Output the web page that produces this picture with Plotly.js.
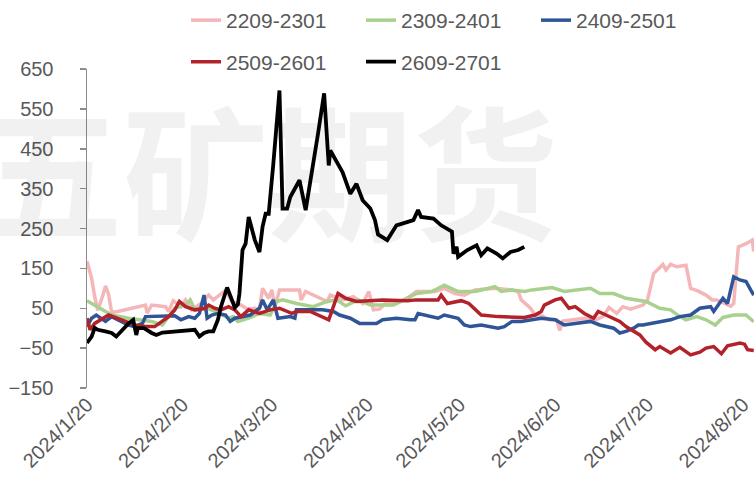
<!DOCTYPE html>
<html>
<head>
<meta charset="utf-8">
<script src="https://cdn.plot.ly/plotly-3.0.1.min.js"></script>
<style>html,body{margin:0;padding:0;background:#fff;}#chart{width:754px;height:485px;}</style>
</head>
<body>
<div id="chart"></div>
<script>
// ---- data ----
const seriesNames = ["2209-2301", "2309-2401", "2409-2501", "2509-2601", "2609-2701"];
const tickDates = ["2024-01-20","2024-02-20","2024-03-20","2024-04-20","2024-05-20","2024-06-20","2024-07-20","2024-08-20"];
const tickLabels = ["2024/1/20","2024/2/20","2024/3/20","2024/4/20","2024/5/20","2024/6/20","2024/7/20","2024/8/20"];
const yTicks = [-150, -50, 50, 150, 250, 350, 450, 550, 650];

const d2209 = ["2024-01-20","2024-01-21 12:00","2024-01-22 12:00","2024-01-23 12:00","2024-01-25","2024-01-26","2024-01-27","2024-01-28","2024-01-30","2024-02-08","2024-02-08 12:00","2024-02-10","2024-02-14 12:00","2024-02-15 12:00","2024-02-17","2024-02-19 12:00","2024-02-21","2024-02-23","2024-02-26","2024-02-28 12:00","2024-03-01","2024-03-02 12:00","2024-03-05","2024-03-07","2024-03-08 12:00","2024-03-10","2024-03-12","2024-03-14 12:00","2024-03-16","2024-03-17","2024-03-19","2024-03-20","2024-03-21","2024-03-22 12:00","2024-03-29","2024-03-29 12:00","2024-03-31","2024-04-03 12:00","2024-04-07","2024-04-08","2024-04-12","2024-04-15 12:00","2024-04-18 12:00","2024-04-20 12:00","2024-04-22","2024-04-24","2024-04-26 12:00","2024-04-29 12:00","2024-05-03","2024-05-06","2024-05-12","2024-05-15","2024-05-18 12:00","2024-05-21 12:00","2024-05-25","2024-05-31 12:00","2024-06-06","2024-06-08","2024-06-09","2024-06-12","2024-06-13 12:00","2024-06-16","2024-06-18","2024-06-20 12:00","2024-06-21 12:00","2024-06-22 12:00","2024-06-26 12:00","2024-06-29 12:00","2024-07-03 12:00","2024-07-05 12:00","2024-07-07 12:00","2024-07-10","2024-07-12","2024-07-14 12:00","2024-07-18 12:00","2024-07-20","2024-07-22","2024-07-24","2024-07-25","2024-07-26","2024-07-27 12:00","2024-07-29 12:00","2024-08-01 12:00","2024-08-03","2024-08-05 12:00","2024-08-08","2024-08-10","2024-08-11 12:00","2024-08-16","2024-08-17","2024-08-18 12:00","2024-08-21","2024-08-23","2024-08-23 12:00"];
const v2209 = [168,125,79,45,79,106,85,40,42,58,38,58,54,42,69,54,71,46,62,83,71,79,95,67,62,58,48,50,46,100,75,96,54,96,96,71,92,79,67,83,71,79,62,92,46,48,67,62,75,92,92,100,87,83,96,100,96,92,71,50,33,30,21,21,-6,18,21,25,22,29,52,37,54,48,58,71,137,152,160,146,160,154,158,100,93,83,71,71,55,62,204,212,221,192];

const d2309 = ["2024-01-20","2024-01-28","2024-02-02 12:00","2024-02-07","2024-02-10","2024-02-13 12:00","2024-02-17 12:00","2024-02-21","2024-02-22 12:00","2024-02-24","2024-02-28","2024-03-03","2024-03-06","2024-03-07 12:00","2024-03-09","2024-03-12 12:00","2024-03-16","2024-03-19 12:00","2024-03-21 12:00","2024-03-23 12:00","2024-03-28","2024-04-02 12:00","2024-04-07","2024-04-10","2024-04-13","2024-04-17","2024-04-21","2024-04-28 12:00","2024-05-03","2024-05-06","2024-05-11","2024-05-15","2024-05-19 12:00","2024-05-25","2024-05-31 12:00","2024-06-02 12:00","2024-06-06","2024-06-10","2024-06-12 12:00","2024-06-19","2024-06-23","2024-06-26 12:00","2024-07-01 12:00","2024-07-04 12:00","2024-07-09","2024-07-13","2024-07-17 12:00","2024-07-19 12:00","2024-07-24","2024-07-27 12:00","2024-07-30 12:00","2024-08-01 12:00","2024-08-05","2024-08-08","2024-08-11","2024-08-13 12:00","2024-08-17","2024-08-21","2024-08-23 12:00"];
const v2309 = [69,33,25,21,17,8,50,58,71,46,50,37,25,29,17,25,37,33,67,71,62,54,67,71,56,71,58,58,75,87,92,108,92,92,104,92,96,92,96,102,92,96,100,87,87,75,71,67,50,46,29,21,29,21,8,27,33,33,16];

const d2409 = ["2024-01-20","2024-01-21 12:00","2024-01-23","2024-01-26","2024-01-28","2024-02-02 12:00","2024-02-04 12:00","2024-02-07","2024-02-08","2024-02-13 12:00","2024-02-17 12:00","2024-02-19 12:00","2024-02-22","2024-02-24","2024-02-25 12:00","2024-02-27","2024-02-28","2024-02-29 12:00","2024-03-02 12:00","2024-03-05","2024-03-06 12:00","2024-03-08","2024-03-10","2024-03-13","2024-03-16","2024-03-17","2024-03-18 12:00","2024-03-20","2024-03-20 12:00","2024-03-22","2024-03-26","2024-03-27 12:00","2024-03-28","2024-04-05 12:00","2024-04-09","2024-04-11","2024-04-14 12:00","2024-04-17 12:00","2024-04-23","2024-04-25","2024-04-29 12:00","2024-05-04","2024-05-05 12:00","2024-05-06 12:00","2024-05-13","2024-05-15","2024-05-19 12:00","2024-05-21 12:00","2024-05-23 12:00","2024-05-27","2024-06-01 12:00","2024-06-03 12:00","2024-06-06","2024-06-09","2024-06-12 12:00","2024-06-15 12:00","2024-06-20","2024-06-23","2024-06-26 12:00","2024-07-01 12:00","2024-07-04 12:00","2024-07-09","2024-07-11","2024-07-13","2024-07-15 12:00","2024-07-17","2024-07-18 12:00","2024-07-21","2024-07-24","2024-07-27 12:00","2024-07-30 12:00","2024-08-03","2024-08-06","2024-08-09 12:00","2024-08-10 12:00","2024-08-12 12:00","2024-08-13 12:00","2024-08-15","2024-08-17","2024-08-19","2024-08-21","2024-08-22 12:00","2024-08-23 12:00"];
const v2409 = [4,25,33,17,29,8,4,12,29,31,31,21,29,25,37,83,25,33,37,33,17,25,29,33,50,71,46,67,71,25,29,25,46,46,42,33,25,12,12,21,25,21,21,37,25,33,25,8,4,8,0,4,17,17,21,25,21,8,12,17,8,0,-12,-8,0,8,8,12,17,21,29,33,50,54,42,62,75,62,129,121,117,96,83];

const d2509 = ["2024-01-20","2024-01-21","2024-01-22 12:00","2024-01-25","2024-01-27","2024-02-01 12:00","2024-02-04 12:00","2024-02-08","2024-02-11","2024-02-15 12:00","2024-02-17 12:00","2024-02-19","2024-02-21","2024-02-24","2024-02-27 12:00","2024-02-28 12:00","2024-03-01 12:00","2024-03-03 12:00","2024-03-06","2024-03-08","2024-03-10","2024-03-12 12:00","2024-03-16","2024-03-19 12:00","2024-03-22 12:00","2024-03-26 12:00","2024-03-28","2024-04-01 12:00","2024-04-07 12:00","2024-04-10 12:00","2024-04-13","2024-04-16 12:00","2024-04-21","2024-04-25","2024-05-03","2024-05-06","2024-05-13","2024-05-14","2024-05-16","2024-05-20 12:00","2024-05-23","2024-05-27","2024-06-01 12:00","2024-06-07","2024-06-10","2024-06-13 12:00","2024-06-15 12:00","2024-06-16 12:00","2024-06-20","2024-06-22","2024-06-24 12:00","2024-06-26 12:00","2024-06-29 12:00","2024-07-02 12:00","2024-07-04","2024-07-06 12:00","2024-07-11","2024-07-13","2024-07-15 12:00","2024-07-17 12:00","2024-07-19 12:00","2024-07-22 12:00","2024-07-24","2024-07-27 12:00","2024-07-30 12:00","2024-08-03","2024-08-06","2024-08-08","2024-08-10 12:00","2024-08-13","2024-08-15","2024-08-19","2024-08-20 12:00","2024-08-21 12:00","2024-08-23 12:00"];
const v2509 = [25,-4,12,25,33,17,8,4,4,29,46,67,54,46,50,58,50,46,54,46,29,46,37,46,50,37,42,42,21,87,75,67,69,71,69,71,71,83,62,69,62,33,29,29,27,33,42,58,71,75,50,54,37,25,42,33,17,4,-8,-17,-35,-54,-46,-62,-48,-67,-60,-50,-46,-64,-44,-37,-40,-54,-56];

const d2609 = ["2024-01-20","2024-01-21 12:00","2024-01-22 12:00","2024-01-23 12:00","2024-01-26","2024-01-28","2024-01-29 12:00","2024-01-31 12:00","2024-02-01 12:00","2024-02-02 12:00","2024-02-04","2024-02-05","2024-02-05 12:00","2024-02-07 12:00","2024-02-10","2024-02-11 12:00","2024-02-13 12:00","2024-02-18 12:00","2024-02-24","2024-02-25 12:00","2024-02-27","2024-02-28 12:00","2024-03-01","2024-03-02 12:00","2024-03-03 12:00","2024-03-05 12:00","2024-03-07","2024-03-08","2024-03-09","2024-03-09 12:00","2024-03-10 12:00","2024-03-11 12:00","2024-03-12 12:00","2024-03-14 12:00","2024-03-16","2024-03-17","2024-03-18","2024-03-19","2024-03-20 12:00","2024-03-22 12:00","2024-03-23 12:00","2024-03-25","2024-03-26","2024-03-29","2024-03-31","2024-04-02","2024-04-04","2024-04-06","2024-04-07 12:00","2024-04-08","2024-04-09","2024-04-12","2024-04-14 12:00","2024-04-16 12:00","2024-04-18 12:00","2024-04-21","2024-04-22 12:00","2024-04-23 12:00","2024-04-26 12:00","2024-04-29 12:00","2024-05-05","2024-05-06 12:00","2024-05-07 12:00","2024-05-11 12:00","2024-05-14","2024-05-17 12:00","2024-05-18","2024-05-19","2024-05-19 12:00","2024-05-22 12:00","2024-05-25 12:00","2024-05-27","2024-05-29","2024-06-01","2024-06-03","2024-06-05 12:00","2024-06-08","2024-06-10"];
const v2609 = [-37,-21,1,-4,-8,-12,-21,-4,4,12,21,-17,0,0,-12,-17,-11,-8,-4,-21,-12,-8,-8,21,54,102,73,52,60,87,196,212,279,221,191,254,287,287,412,596,300,300,329,371,296,387,487,589,408,446,433,391,337,362,321,300,271,235,221,258,271,296,279,275,258,242,187,204,179,196,208,183,200,187,175,191,196,204];

const seriesDates = [d2209, d2309, d2409, d2509, d2609];
const seriesValues = [v2209, v2309, v2409, v2509, v2609];
const colors = ["#F4B6B9", "#A9D18E", "#2F5597", "#B3222A", "#000000"];
const widths = [3.5, 3.5, 3.5, 3.5, 3.8];
const legendOf = ["legend", "legend", "legend", "legend2", "legend2"];

const traces = seriesNames.map((n, i) => ({
  type: "scatter", mode: "lines", name: n,
  x: seriesDates[i], y: seriesValues[i],
  line: {color: colors[i], width: widths[i]},
  legend: legendOf[i], hoverinfo: "skip"
}));

const font = "Liberation Sans, Arial, sans-serif";
const grey = "#595959";
const axisGrey = "#8c8c8c";
const xRange = ["2024-01-20", "2024-08-23 14:00"];

const legendCommon = {
  orientation: "h", xanchor: "left", yanchor: "middle",
  font: {family: font, size: 21, color: grey}, entrywidth: 130, entrywidthmode: "pixels",
  bgcolor: "rgba(0,0,0,0)", traceorder: "normal"
};

const layout = {
  width: 754, height: 485,
  margin: {l: 87, r: 0, t: 68, b: 97},
  paper_bgcolor: "#ffffff", plot_bgcolor: "rgba(0,0,0,0)",
  showlegend: true,
  font: {family: font, color: grey, size: 19},
  xaxis: {
    type: "date", range: xRange, showgrid: false, zeroline: false, showline: false,
    tickvals: tickDates, ticktext: tickLabels, tickangle: -45, ticks: "",
    tickfont: {family: font, size: 20, color: grey}, fixedrange: true
  },
  xaxis2: {
    type: "date", range: xRange, overlaying: "x", anchor: "free", position: 150/800,
    showgrid: false, zeroline: false, showline: true, linecolor: axisGrey, linewidth: 1.5,
    tickvals: tickDates, ticks: "outside", ticklen: 5, tickwidth: 1.5, tickcolor: axisGrey,
    showticklabels: false, layer: "below traces"
  },
  yaxis: {
    range: [-150, 650], tickvals: yTicks, showgrid: false, zeroline: false,
    showline: true, linecolor: axisGrey, linewidth: 1.5,
    ticks: "outside", ticklen: 6, tickwidth: 1.5, tickcolor: axisGrey,
    ticklabelstandoff: 22, tickfont: {family: font, size: 20, color: grey},
    layer: "below traces"
  },
  legend: Object.assign({}, legendCommon, {x: (186-87)/667, y: (388-19)/320}),
  legend2: Object.assign({}, legendCommon, {x: (186-87)/667, y: (388-62)/320}),
  annotations: [{
    text: "五矿期货", xref: "paper", yref: "paper",
    x: (268-87)/667, y: (388-166)/320, xanchor: "center", yanchor: "middle",
    showarrow: false,
    font: {family: "Noto Sans CJK SC", size: 145, weight: 700, color: "rgba(0,0,0,0.055)"}
  }]
};

Plotly.newPlot("chart", traces, layout, {staticPlot: true, displayModeBar: false});
</script>
</body>
</html>
